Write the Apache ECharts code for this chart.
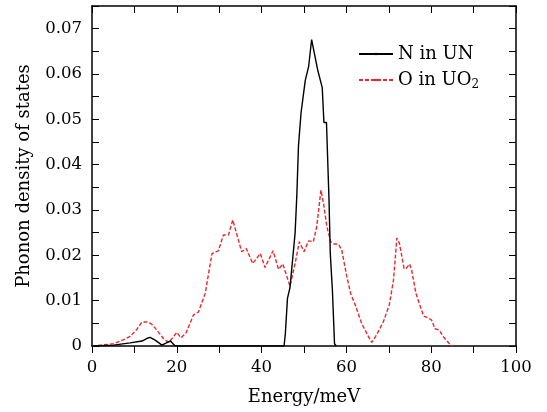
<!DOCTYPE html>
<html>
<head>
<meta charset="utf-8">
<script src="https://cdn.jsdelivr.net/npm/echarts@6/dist/echarts.min.js"></script>
<style>
  html, body {margin: 0; padding: 0; background: #fff;}
  #chart {width: 547px; height: 412px;}
</style>
</head>
<body>
<div id="chart"></div>
<script>
// N in UN
const nEnergy = [0, 5.1, 9.0, 11.8, 13.0, 13.7, 14.9, 16.5, 17.3, 18.5, 19.5, 20.0, 45.3, 45.6, 46.1, 46.7, 47.9, 48.3, 48.7, 49.3, 50.3, 51.1, 51.8, 52.2, 53.2, 54.3, 54.7, 55.3, 55.9, 56.2, 56.7, 57.2, 57.6];
const nDos = [0, 0.0002, 0.0007, 0.0011, 0.0017, 0.0019, 0.0013, 0.0002, 0.0006, 0.0011, 0.0001, 0, 0, 0.0027, 0.0105, 0.0129, 0.0249, 0.033, 0.0442, 0.0514, 0.0586, 0.0617, 0.0676, 0.0673, 0.061, 0.057, 0.0493, 0.0493, 0.0322, 0.0204, 0.0123, 0.0005, 0];

// O in UO2
const oEnergy = [0, 2.0, 5.1, 7.5, 9.0, 10.6, 11.8, 13.0, 14.1, 15.3, 16.9, 18.1, 19.2, 20.0, 21.0, 22.2, 23.9, 25.1, 26.7, 28.3, 29.8, 31.0, 32.2, 33.2, 33.6, 35.3, 36.4, 37.9, 39.7, 40.8, 42.7, 44.0, 45.0, 46.7, 47.9, 48.9, 50.0, 51.1, 52.2, 53.0, 54.0, 54.6, 55.4, 56.3, 57.1, 58.1, 58.9, 60.1, 61.0, 62.1, 63.6, 65.0, 66.0, 67.2, 68.7, 70.1, 71.1, 71.9, 72.5, 73.6, 74.1, 74.9, 75.4, 76.4, 77.4, 78.2, 79.3, 80.1, 80.9, 81.9, 82.9, 84.4, 85.1];
const oDos = [0, 0.0002, 0.0005, 0.0014, 0.0021, 0.0037, 0.0053, 0.0053, 0.0048, 0.0035, 0.0016, 0.0008, 0.002, 0.003, 0.0018, 0.0029, 0.0068, 0.0075, 0.0116, 0.0204, 0.021, 0.0245, 0.0245, 0.0278, 0.0274, 0.0208, 0.0215, 0.0182, 0.0204, 0.0173, 0.021, 0.0169, 0.0181, 0.0132, 0.0182, 0.023, 0.0208, 0.0232, 0.023, 0.0263, 0.0344, 0.0315, 0.0263, 0.023, 0.0225, 0.0225, 0.0212, 0.0153, 0.0116, 0.009, 0.005, 0.0024, 0.0008, 0.0026, 0.0053, 0.009, 0.0145, 0.0238, 0.0227, 0.0171, 0.0171, 0.0181, 0.0167, 0.0116, 0.0088, 0.0066, 0.0062, 0.0057, 0.0038, 0.0035, 0.002, 0.0004, 0];

const seriesNames = ['N in UN', 'O in UO2'];

const font = 'DejaVu Serif';
const zip = (xs, ys) => xs.map((x, i) => [x, ys[i]]);

const myChart = echarts.init(document.getElementById('chart'));

const tickStyle = {color: '#000', width: 1};
const frameLine = {show: true, onZero: false, lineStyle: {color: '#000', width: 1.5}};
myChart.setOption({
  animation: false,
  backgroundColor: '#fff',
  textStyle: {fontFamily: font},
  grid: {left: 92, right: 31, top: 6, bottom: 66, containLabel: false},
  legend: {
    left: 358,
    top: 45,
    padding: 0,
    orient: 'vertical',
    itemWidth: 34,
    itemHeight: 3,
    itemGap: 8,
    data: seriesNames,
    formatter(name) {
      return name === 'O in UO2' ? 'O in UO{sub|2}' : name;
    },
    textStyle: {
      fontFamily: font,
      fontSize: 18,
      color: '#000',
      rich: {
        sub: {fontFamily: font, fontSize: 12, verticalAlign: 'bottom', padding: [9, 0, 0, 0], color: '#000'}
      }
    }
  },
  xAxis: [{
    type: 'value',
    min: 0, max: 100, interval: 10,
    name: 'Energy/meV',
    nameLocation: 'middle',
    nameGap: 42,
    nameTextStyle: {fontFamily: font, fontSize: 18, color: '#000'},
    axisLine: frameLine,
    axisTick: {show: true, inside: false, length: 7, lineStyle: tickStyle},
    axisLabel: {
      margin: 13,
      fontFamily: font, fontSize: 16.5, color: '#000',
      formatter(v) { return v % 20 === 0 ? String(v) : ''; }
    },
    splitLine: {show: false}
  }, {
    type: 'value',
    position: 'top',
    min: 0, max: 100, interval: 10,
    axisLine: frameLine,
    axisTick: {show: true, inside: true, length: 7, lineStyle: tickStyle},
    axisLabel: {show: false},
    splitLine: {show: false}
  }],
  yAxis: [{
    type: 'value',
    min: 0, max: 0.075, interval: 0.005,
    name: 'Phonon density of states',
    nameLocation: 'middle',
    nameGap: 59,
    nameTextStyle: {fontFamily: font, fontSize: 18, color: '#000'},
    axisLine: frameLine,
    axisTick: {show: true, inside: true, length: 7, lineStyle: tickStyle},
    axisLabel: {
      margin: 10,
      fontFamily: font, fontSize: 16.5, color: '#000',
      formatter(v) {
        const k = Math.round(v * 1000);
        if (k % 10 !== 0 || k > 70) return '';
        return k === 0 ? '0' : (k / 1000).toFixed(2);
      }
    },
    splitLine: {show: false}
  }, {
    type: 'value',
    position: 'right',
    min: 0, max: 0.075, interval: 0.005,
    axisLine: frameLine,
    axisTick: {show: true, inside: true, length: 7, lineStyle: tickStyle},
    axisLabel: {show: false},
    splitLine: {show: false}
  }],
  series: [{
    name: 'N in UN',
    type: 'line',
    data: zip(nEnergy, nDos),
    symbol: 'none',
    color: '#000',
    lineStyle: {color: '#000', width: 1.4},
    z: 3
  }, {
    name: 'O in UO2',
    type: 'line',
    data: zip(oEnergy, oDos),
    symbol: 'none',
    color: '#e8282e',
    lineStyle: {color: '#e8282e', width: 1.4, type: [4, 2]},
    z: 2
  }]
});
</script>
</body>
</html>
